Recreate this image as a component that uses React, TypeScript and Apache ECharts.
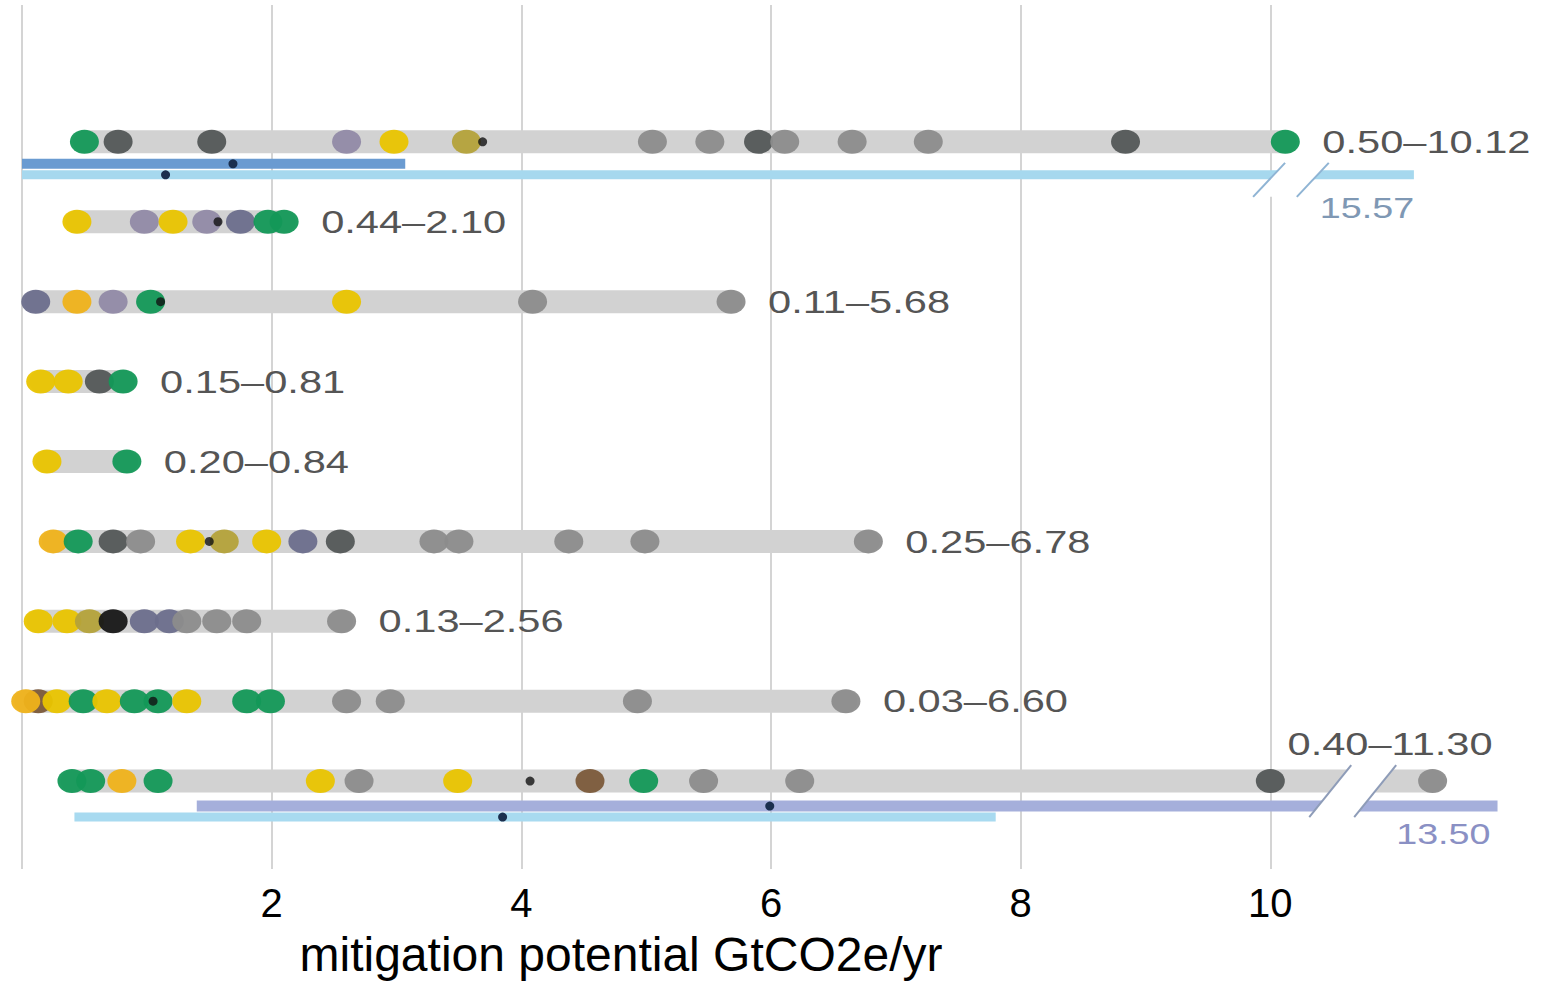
import React, { useEffect, useRef } from "react";
import * as echarts from "echarts";

// ---------------- data ----------------
const axisTicks = [0, 2, 4, 6, 8, 10, 12];
const axisTitle = "mitigation potential GtCO2e/yr";

// [low, high] of each row (top to bottom)
const rowRanges: [number, number][] = [
  [0.5, 10.12],
  [0.44, 2.1],
  [0.11, 5.68],
  [0.15, 0.81],
  [0.2, 0.84],
  [0.25, 6.78],
  [0.13, 2.56],
  [0.03, 6.6],
  [0.4, 11.3],
];

// dots per row: [value, colour group]
const row0Dots: [number, string][] = [
  [0.5, "G"], [0.77, "D"], [1.52, "D"], [2.6, "L"], [2.98, "Y"], [3.56, "V"],
  [5.05, "M"], [5.51, "M"], [5.9, "D"], [6.11, "M"], [6.65, "M"], [7.26, "M"],
  [8.84, "D"], [10.12, "G"],
];
const row1Dots: [number, string][] = [
  [0.44, "Y"], [0.98, "L"], [1.21, "Y"], [1.48, "L"], [1.75, "S"], [1.97, "G"], [2.1, "G"],
];
const row2Dots: [number, string][] = [
  [0.11, "S"], [0.44, "O"], [0.73, "L"], [1.03, "G"], [2.6, "Y"], [4.09, "M"], [5.68, "M"],
];
const row3Dots: [number, string][] = [[0.15, "Y"], [0.37, "Y"], [0.62, "D"], [0.81, "G"]];
const row4Dots: [number, string][] = [[0.2, "Y"], [0.84, "G"]];
const row5Dots: [number, string][] = [
  [0.25, "O"], [0.45, "G"], [0.73, "D"], [0.95, "M"], [1.35, "Y"], [1.62, "V"], [1.96, "Y"],
  [2.25, "S"], [2.55, "D"], [3.3, "M"], [3.5, "M"], [4.38, "M"], [4.99, "M"], [6.78, "M"],
];
const row6Dots: [number, string][] = [
  [0.13, "Y"], [0.36, "Y"], [0.54, "V"], [0.73, "K"], [0.98, "S"], [1.18, "S"],
  [1.32, "M"], [1.56, "M"], [1.8, "M"], [2.56, "M"],
];
const row7Dots: [number, string][] = [
  [0.13, "N"], [0.03, "O"], [0.28, "Y"], [0.49, "G"], [0.68, "Y"], [0.9, "G"], [1.09, "G"],
  [1.32, "Y"], [1.8, "G"], [1.99, "G"], [2.6, "M"], [2.95, "M"], [4.93, "M"], [6.6, "M"],
];
const row8Dots: [number, string][] = [
  [0.4, "G"], [0.55, "G"], [0.8, "O"], [1.09, "G"], [2.39, "Y"], [2.7, "M"], [3.49, "Y"],
  [4.55, "N"], [4.98, "G"], [5.46, "M"], [6.23, "M"], [10.0, "D"], [11.3, "M"],
];
const rowDots = [row0Dots, row1Dots, row2Dots, row3Dots, row4Dots, row5Dots, row6Dots, row7Dots, row8Dots];

// small black marks: [value, row]
const blackMarks: [number, number][] = [
  [3.69, 0], [1.57, 1], [1.11, 2], [1.5, 5], [1.05, 7], [4.07, 8],
];

// reference ranges drawn as lines: [row, low, high, marker]
const refRanges: [number, number, number, number][] = [
  [0, 0, 3.07, 1.69],
  [0, 0, 15.57, 1.15],
  [8, 1.4, 13.5, 5.99],
  [8, 0.42, 7.8, 3.85],
];

// ---------------- layout / style ----------------
const FONT = "'Liberation Sans', Arial, Helvetica, sans-serif";
const COLORS: Record<string, string> = {
  G: "#139857",
  Y: "#e9c400",
  O: "#efb21a",
  D: "#535757",
  M: "#8c8c8c",
  S: "#6b6e8c",
  L: "#918aa6",
  V: "#b4a23a",
  K: "#171717",
  N: "#7b5a3a",
};
const BAR_H = 23;
const DOT_W = 29;
const DOT_H = 24;
const FIRST_ROW_Y = 142;
const ROW_STEP = 80;
const GRID_TOP = 5;
const GRID_BOTTOM_Y = 870;
const Y_MIN = (GRID_TOP - FIRST_ROW_Y) / ROW_STEP;
const Y_MAX = (GRID_BOTTOM_Y - FIRST_ROW_Y) / ROW_STEP;

const REF_STYLES = [
  { color: "#6a9bd1", dy: 22, w: 10, cap: Infinity },
  { color: "#a6d8ee", dy: 33, w: 9, cap: 11.15 },
  { color: "#a5afdb", dy: 25, w: 11, cap: 11.82 },
  { color: "#a8daf0", dy: 36, w: 9, cap: Infinity },
];
// axis breaks: [row, left slash at, right slash at, ref index]
const BREAKS: [number, number, number, number][] = [
  [0, 9.99, 10.34, 1],
  [8, 10.48, 10.84, 2],
];
const BREAK_STYLES = [
  { dy: 38, hdx: 16, hdy: 17, stroke: "#8fb4d4", labelDx: 7, labelDy: 66, labelColor: "#7f98b4" },
  { dy: 10, hdx: 21, hdy: 26, stroke: "#8e9cb8", labelDx: 21, labelDy: 53, labelColor: "#8a90c4" },
];
const LABEL_SCALE_X = 1.3;
const ELLIPSE = "path://M0,12A15,12,0,1,0,30,12A15,12,0,1,0,0,12Z";

function fmt(v: number) {
  return v.toFixed(2);
}

export default function App() {
  const ref = useRef<HTMLDivElement>(null);
  useEffect(() => {
    if (!ref.current) return;
    const chart = echarts.init(ref.current, undefined, { renderer: "svg" });

    const dotData: any[] = [];
    rowDots.forEach((dots, row) => {
      dots.forEach(([v, c]) => {
        dotData.push({ value: [v, row], itemStyle: { color: COLORS[c] } });
      });
    });

    const option: any = {
      animation: false,
      backgroundColor: "#ffffff",
      grid: { left: 22, right: 22, top: GRID_TOP, bottom: 983 - GRID_BOTTOM_Y },
      xAxis: {
        type: "value",
        min: axisTicks[0],
        max: axisTicks[axisTicks.length - 1],
        interval: 2,
        axisLine: { show: false },
        axisTick: { show: false },
        splitLine: { show: true, showMaxLine: false, lineStyle: { color: "#d4d4d4", width: 2 } },
        axisLabel: {
          fontSize: 40,
          color: "#000",
          fontFamily: FONT,
          margin: 14,
          showMaxLabel: false,
          formatter: (v: number) => (v === 0 || v > 10 ? "" : String(v)),
        },
        name: axisTitle,
        nameLocation: "middle",
        nameGap: 61,
        nameTextStyle: { fontSize: 48, color: "#000", fontFamily: FONT, padding: [0, 300, 0, 0] },
      },
      yAxis: { type: "value", inverse: true, min: Y_MIN, max: Y_MAX, show: false },
      series: [
        {
          type: "custom",
          name: "ranges",
          z: 1,
          silent: true,
          encode: { x: [0, 1], y: 2 },
          data: rowRanges.map((r, i) => [r[0], r[1], i]),
          renderItem: (params: any, api: any) => {
            const a = api.coord([api.value(0), api.value(2)]);
            const b = api.coord([api.value(1), api.value(2)]);
            return {
              type: "rect",
              shape: { x: a[0] - BAR_H / 2, y: a[1] - BAR_H / 2, width: b[0] - a[0] + BAR_H, height: BAR_H, r: BAR_H / 2 },
              style: { fill: "#d2d2d2" },
            };
          },
        },
        {
          type: "custom",
          name: "reference",
          z: 2,
          silent: true,
          encode: { x: [1, 2], y: 0 },
          data: refRanges,
          renderItem: (params: any, api: any) => {
            const st = REF_STYLES[params.dataIndex];
            const row = api.value(0);
            const hi = Math.min(api.value(2), st.cap);
            const a = api.coord([api.value(1), row]);
            const b = api.coord([hi, row]);
            const m = api.coord([api.value(3), row]);
            const y = a[1] + st.dy;
            return {
              type: "group",
              children: [
                { type: "rect", shape: { x: a[0], y: y - st.w / 2, width: b[0] - a[0], height: st.w }, style: { fill: st.color } },
                { type: "circle", shape: { cx: m[0], cy: y, r: 4.5 }, style: { fill: "#1b2f4e" } },
              ],
            };
          },
        },
        {
          type: "scatter",
          name: "estimates",
          z: 3,
          silent: true,
          symbol: ELLIPSE,
          symbolSize: [DOT_W, DOT_H],
          itemStyle: { opacity: 0.95 },
          data: dotData,
        },
        {
          type: "scatter",
          name: "marks",
          z: 4,
          silent: true,
          symbol: "circle",
          symbolSize: 9,
          itemStyle: { color: "#111" },
          data: blackMarks.map(([v, r]) => [v, r]),
        },
        {
          type: "custom",
          name: "breaks",
          z: 5,
          silent: true,
          encode: { x: [1, 2], y: 0 },
          data: BREAKS,
          renderItem: (params: any, api: any) => {
            const st = BREAK_STYLES[params.dataIndex];
            const row = api.value(0);
            const L = api.coord([api.value(1), row]);
            const R = api.coord([api.value(2), row]);
            const cy = L[1] + st.dy;
            const refIdx = api.value(3);
            const label = fmt(refRanges[refIdx][2]);
            return {
              type: "group",
              children: [
                {
                  type: "polygon",
                  shape: {
                    points: [
                      [L[0] - st.hdx, cy + st.hdy],
                      [L[0] + st.hdx, cy - st.hdy],
                      [R[0] + st.hdx, cy - st.hdy],
                      [R[0] - st.hdx, cy + st.hdy],
                    ],
                  },
                  style: { fill: "#ffffff" },
                },
                {
                  type: "line",
                  shape: { x1: L[0] - st.hdx, y1: cy + st.hdy, x2: L[0] + st.hdx, y2: cy - st.hdy },
                  style: { stroke: st.stroke, lineWidth: 2 },
                },
                {
                  type: "line",
                  shape: { x1: R[0] - st.hdx, y1: cy + st.hdy, x2: R[0] + st.hdx, y2: cy - st.hdy },
                  style: { stroke: st.stroke, lineWidth: 2 },
                },
                {
                  type: "text",
                  x: R[0] + st.labelDx,
                  y: R[1] + st.labelDy,
                  scaleX: LABEL_SCALE_X,
                  style: {
                    text: label,
                    fill: st.labelColor,
                    fontSize: 29,
                    fontFamily: FONT,
                    align: "left",
                    verticalAlign: "middle",
                  },
                },
              ],
            };
          },
        },
        {
          type: "custom",
          name: "labels",
          z: 6,
          silent: true,
          encode: { x: [0, 1], y: 2 },
          data: rowRanges.map((r, i) => [r[0], r[1], i]),
          renderItem: (params: any, api: any) => {
            const lo = api.value(0);
            const hi = api.value(1);
            const row = api.value(2);
            const p = api.coord([hi, row]);
            const last = row === rowRanges.length - 1;
            return {
              type: "text",
              x: last ? p[0] + 60 : p[0] + 37,
              y: last ? p[1] - 37 : p[1],
              scaleX: LABEL_SCALE_X,
              style: {
                text: `${fmt(lo)}–${fmt(hi)}`,
                fill: "#555555",
                fontSize: 32,
                fontFamily: FONT,
                align: last ? "right" : "left",
                verticalAlign: "middle",
              },
            };
          },
        },
      ],
    };
    chart.setOption(option);
    return () => chart.dispose();
  }, []);

  return (
    <div
      ref={ref}
      style={{ position: "fixed", left: 0, top: 0, width: 1542, height: 983, background: "#fff" }}
    />
  );
}
